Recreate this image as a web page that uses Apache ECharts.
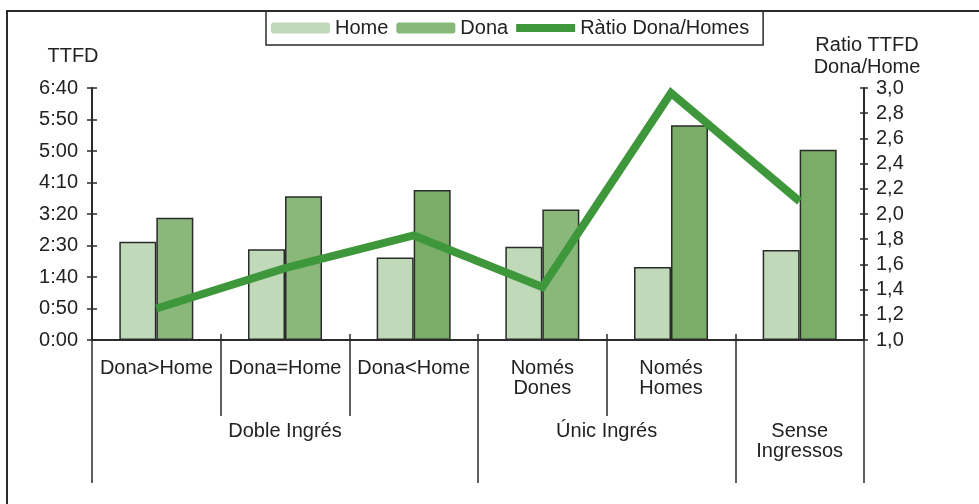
<!DOCTYPE html>
<html>
<head>
<meta charset="utf-8">
<script src="https://cdn.jsdelivr.net/npm/echarts@6/dist/echarts.min.js"></script>
<style>
  html, body { margin: 0; padding: 0; background: #fff; }
  #chart { width: 979px; height: 504px; }
</style>
</head>
<body>
<div id="chart"></div>
<script>
var categories = ["Dona>Home", "Dona=Home", "Dona<Home", "Només\nDones", "Només\nHomes", ""];
var groups = ["Doble Ingrés", "Únic Ingrés", "Sense\nIngressos"];
var groupCenters = [1.5, 4, 5.5];
var groupBounds = [0, 3, 5, 6];
// minutes
var homeValues = [156, 144, 131, 148, 116, 143];
var donaValues = [194, 228, 238, 207, 341, 302];
var ratioValues = [1.25, 1.57, 1.83, 1.42, 2.96, 2.10];

var donaColors = ["#8ab87b", "#8ab87b", "#79ad68", "#8ab87b", "#79ad68", "#79ad68"];

var FONT = "Liberation Sans, Arial, sans-serif";
var TXT = "#222";
var AX = "#2b2b2b";
var LINE = "#3e973a";

function toTime(v) {
  var h = Math.floor(v / 60), m = Math.round(v % 60);
  return h + ":" + (m < 10 ? "0" + m : m);
}

var chart = echarts.init(document.getElementById("chart"));

var option = {
  animation: false,
  textStyle: { fontFamily: FONT },
  grid: { left: 92, right: 115, top: 88, bottom: 164 },
  graphic: [{
    type: "rect",
    z: -10,
    shape: { x: 7, y: 11, width: 1200, height: 700 },
    style: { fill: null, stroke: AX, lineWidth: 2 }
  }],
  legend: {
    left: 266,
    top: 11,
    padding: [7, 14, 7, 5],
    itemWidth: 59,
    itemHeight: 11,
    itemGap: 8,
    borderColor: AX,
    borderWidth: 1.5,
    itemStyle: { borderWidth: 0 },
    textStyle: { fontSize: 20, color: TXT, fontFamily: FONT },
    data: [
      "Home",
      "Dona",
      { name: "Ràtio Dona/Homes", icon: "path://M0,0L59,0L59,8L0,8Z", itemStyle: { color: LINE } }
    ]
  },
  xAxis: [
    {
      type: "category",
      data: categories,
      position: "bottom",
      axisLine: { onZero: false, lineStyle: { color: AX, width: 2 } },
      axisTick: { show: true, interval: 0, length: 76, lineStyle: { color: AX, width: 1.5 } },
      axisLabel: { interval: 0, margin: 18, fontSize: 20, lineHeight: 20, color: TXT, fontFamily: FONT }
    },
    {
      type: "value",
      min: 0,
      max: 6,
      position: "bottom",
      axisLine: { show: false, onZero: false },
      splitLine: { show: false },
      axisTick: { show: true, customValues: groupBounds, length: 143, lineStyle: { color: AX, width: 1.5 } },
      axisLabel: {
        customValues: groupCenters,
        margin: 81,
        fontSize: 20,
        lineHeight: 20,
        color: TXT,
        fontFamily: FONT,
        formatter: function(v) {
          return groups[groupCenters.indexOf(v)];
        }
      }
    },
    {
      type: "value",
      min: 0,
      max: 6,
      position: "bottom",
      axisLine: { show: false, onZero: false },
      splitLine: { show: false },
      axisTick: { show: true, inside: true, customValues: [1, 2, 3, 4, 5], length: 6, lineStyle: { color: AX, width: 1.5 } },
      axisLabel: { show: false }
    }
  ],
  yAxis: [
    {
      type: "value",
      position: "left",
      min: 0,
      max: 400,
      interval: 50,
      name: "TTFD",
      nameLocation: "end",
      nameGap: 22,
      nameTextStyle: { fontSize: 20, color: TXT, fontFamily: FONT, padding: [0, 38, 0, 0] },
      axisLine: { show: true, onZero: false, lineStyle: { color: AX, width: 2 } },
      axisTick: { show: true, length: 5, lineStyle: { color: AX, width: 1.5 } },
      splitLine: { show: false },
      axisLabel: { margin: 14, fontSize: 20, color: TXT, fontFamily: FONT, formatter: toTime }
    },
    {
      type: "value",
      position: "right",
      min: 1,
      max: 3,
      interval: 0.2,
      name: "Ratio TTFD\nDona/Home",
      nameLocation: "end",
      nameGap: 10,
      nameTextStyle: { fontSize: 20, lineHeight: 22, color: TXT, fontFamily: FONT, padding: [0, 0, 0, 6] },
      axisLine: { show: true, onZero: false, lineStyle: { color: AX, width: 2 } },
      axisTick: { show: true, length: 4, lineStyle: { color: AX, width: 1.5 } },
      splitLine: { show: false },
      axisLabel: {
        margin: 12, fontSize: 20, color: TXT, fontFamily: FONT,
        formatter: function(v) { return v.toFixed(1).replace(".", ","); }
      }
    },
    {
      type: "value",
      position: "left",
      min: 0,
      max: 400,
      interval: 50,
      axisLine: { show: false, onZero: false },
      axisTick: { show: true, inside: true, length: 5, lineStyle: { color: AX, width: 1.5 } },
      splitLine: { show: false },
      axisLabel: { show: false }
    },
    {
      type: "value",
      position: "right",
      min: 1,
      max: 3,
      interval: 0.2,
      axisLine: { show: false, onZero: false },
      axisTick: { show: true, inside: true, length: 4, lineStyle: { color: AX, width: 1.5 } },
      splitLine: { show: false },
      axisLabel: { show: false }
    }
  ],
  series: [
    {
      name: "Home",
      type: "bar",
      xAxisIndex: 0,
      yAxisIndex: 0,
      barWidth: 37,
      barGap: "0%",
      itemStyle: { color: "#c0d9b9", borderColor: AX, borderWidth: 1.5 },
      data: homeValues
    },
    {
      name: "Dona",
      type: "bar",
      xAxisIndex: 0,
      yAxisIndex: 0,
      barWidth: 37,
      barGap: "0%",
      itemStyle: { color: "#88b77a", borderColor: AX, borderWidth: 1.5 },
      data: donaValues.map(function(v, i) {
        return { value: v, itemStyle: { color: donaColors[i] } };
      })
    },
    {
      name: "Ràtio Dona/Homes",
      type: "line",
      xAxisIndex: 0,
      yAxisIndex: 1,
      symbol: "none",
      z: 5,
      itemStyle: { color: LINE },
      lineStyle: { color: LINE, width: 8, cap: "butt", join: "miter" },
      data: ratioValues
    }
  ]
};

chart.setOption(option);
</script>
</body>
</html>
